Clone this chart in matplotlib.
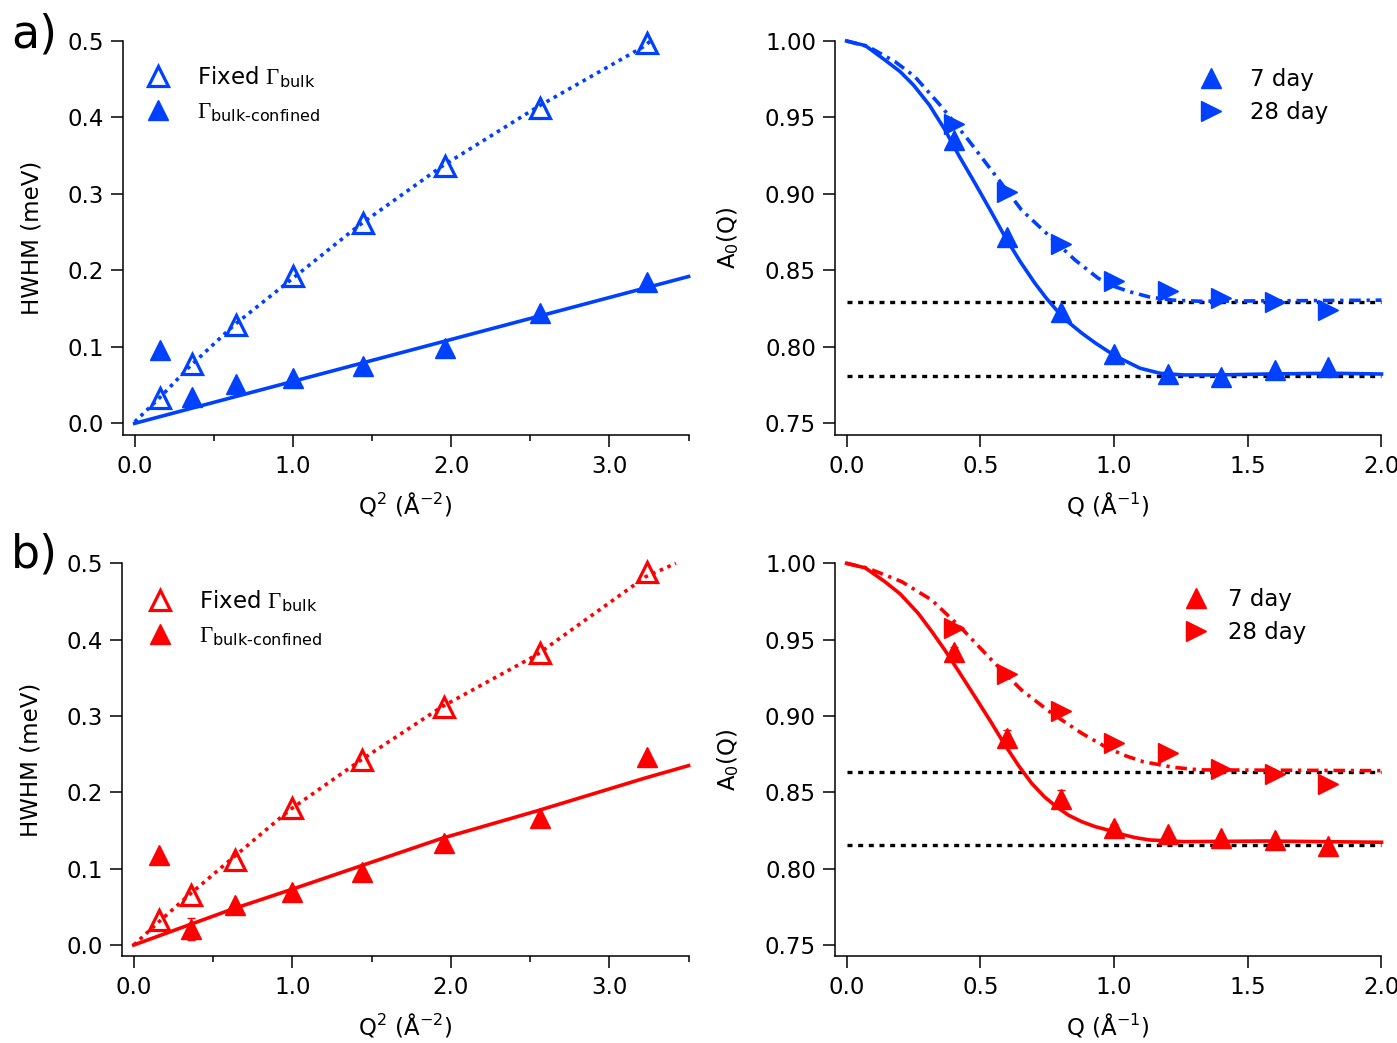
import numpy as np
import matplotlib
matplotlib.use("Agg")
import matplotlib.pyplot as plt

plt.rcParams['font.family'] = 'DejaVu Sans'
plt.rcParams['font.size'] = 16.5
plt.rcParams['mathtext.fontset'] = 'custom'
plt.rcParams['mathtext.rm'] = 'Liberation Serif'
plt.rcParams['mathtext.sf'] = 'DejaVu Sans'
plt.rcParams['mathtext.it'] = 'DejaVu Sans:italic'
plt.rcParams['mathtext.bf'] = 'DejaVu Sans:bold'

BLUE = '#0040ff'
RED = '#ff0000'

# ---- HWHM vs Q^2 ----
q2 = [0.16, 0.36, 0.64, 1.0, 1.44, 1.96, 2.56, 3.24]

fixed_a = [0.033, 0.078, 0.128, 0.193, 0.262, 0.337, 0.413, 0.497]
conf_a = [0.096, 0.035, 0.052, 0.059, 0.075, 0.099, 0.144, 0.185]
fixed_b = [0.033, 0.066, 0.111, 0.179, 0.242, 0.312, 0.382, 0.488]
conf_b = [0.118, 0.021, 0.052, 0.070, 0.096, 0.133, 0.166, 0.246]
conf_b_err = [0, 0.015, 0, 0, 0, 0, 0, 0]

# fitted curves
fixed_fit_a_x = [0.0, 0.154, 0.346, 0.628, 0.989, 1.418, 1.937, 2.547, 3.213, 3.26]
fixed_fit_a_y = [0.002, 0.0327, 0.074, 0.1285, 0.188, 0.259, 0.3355, 0.414, 0.4923, 0.5]
conf_fit_a_x = [0.0, 3.5]
conf_fit_a_y = [0.0, 0.192]
fixed_fit_b_x = [0.0, 0.159, 0.351, 0.633, 0.984, 1.424, 1.943, 2.541, 3.23, 3.42]
fixed_fit_b_y = [0.0, 0.0305, 0.066, 0.1157, 0.177, 0.241, 0.312, 0.380, 0.4825, 0.5]
conf_fit_b_x = [0.0, 0.622, 0.984, 1.943, 2.541, 3.23, 3.5]
conf_fit_b_y = [0.0, 0.047, 0.072, 0.1397, 0.1755, 0.219, 0.235]

# ---- A0(Q) ----
q = [0.4, 0.6, 0.8, 1.0, 1.2, 1.4, 1.6, 1.8]

a0_7_a = [0.935, 0.872, 0.8225, 0.795, 0.782, 0.780, 0.785, 0.787]
a0_28_a = [0.9455, 0.9015, 0.867, 0.843, 0.8362, 0.832, 0.829, 0.824]
a0_7_b = [0.942, 0.8854, 0.8458, 0.8264, 0.8228, 0.8200, 0.8190, 0.8150]
a0_28_b = [0.9575, 0.9275, 0.9036, 0.8824, 0.8756, 0.8652, 0.8623, 0.8552]
a0_7_b_err = [0.003, 0.0055, 0.0055, 0.003, 0, 0, 0, 0]

fit7_a_q = [0.0, 0.07, 0.143, 0.2, 0.25, 0.31, 0.368, 0.42, 0.48, 0.54, 0.592, 0.65, 0.704,
            0.745, 0.785, 0.83, 0.879, 0.93, 0.978, 1.022, 1.097, 1.172, 1.259, 1.384,
            1.571, 1.819, 2.0]
fit7_a_y = [1.0, 0.997, 0.9876, 0.980, 0.9712, 0.958, 0.9418, 0.925, 0.907, 0.8885, 0.872,
            0.8555, 0.8416, 0.8322, 0.824, 0.816, 0.809, 0.8025, 0.797, 0.7925, 0.786,
            0.7827, 0.7816, 0.7816, 0.7822, 0.7827, 0.7822]
fit28_a_q = [0.0, 0.081, 0.181, 0.255, 0.355, 0.455, 0.555, 0.654, 0.754, 0.854,
             0.941, 1.0, 1.059, 1.134, 1.221, 1.321, 2.0]
fit28_a_y = [1.0, 0.9963, 0.9865, 0.9767, 0.957, 0.9353, 0.9124, 0.8895, 0.8731, 0.8568,
             0.8448, 0.8395, 0.836, 0.8325, 0.8305, 0.8298, 0.8305]
fit7_b_q = [0.0, 0.07, 0.143, 0.2, 0.268, 0.32, 0.368, 0.42, 0.48, 0.54, 0.592, 0.645, 0.692,
            0.74, 0.785, 0.83, 0.879, 0.93, 0.978, 1.022, 1.08, 1.134, 1.259, 1.571, 2.0]
fit7_b_y = [1.0, 0.997, 0.988, 0.980, 0.9672, 0.955, 0.943, 0.929, 0.9126, 0.896, 0.881,
            0.867, 0.8559, 0.847, 0.8405, 0.835, 0.8308, 0.8275, 0.8253, 0.8228, 0.8203,
            0.8188, 0.8177, 0.8181, 0.8173]
fit28_b_q = [0.0, 0.081, 0.206, 0.318, 0.43, 0.542, 0.654, 0.767, 0.879, 0.978,
             1.05, 1.109, 1.221, 1.321, 2.0]
fit28_b_y = [1.0, 0.9967, 0.988, 0.976, 0.9574, 0.9367, 0.917, 0.9018, 0.8887, 0.8788,
             0.8735, 0.8701, 0.8664, 0.8647, 0.8642]

# plateau levels
plateau_a = [0.829, 0.781]
plateau_b = [0.8635, 0.8155]
plateau_q = [0.0, 2.0]

fig = plt.figure(figsize=(13.97, 10.43), dpi=100)
ax_a1 = fig.add_axes([0.0877, 0.5829, 0.4052, 0.3778])
ax_a2 = fig.add_axes([0.5974, 0.5829, 0.3915, 0.3778])
ax_b1 = fig.add_axes([0.0870, 0.0834, 0.4059, 0.3765])
ax_b2 = fig.add_axes([0.5974, 0.0834, 0.3915, 0.3765])

MS = 15
dotted = (0, (1.0, 1.3))
dashdot = (0, (3.2, 1.6, 0.9, 1.6))
black_dots = (0, (1.5, 1.7))


def style_axes(ax):
    for s in ['top', 'right']:
        ax.spines[s].set_visible(False)
    for s in ['left', 'bottom']:
        ax.spines[s].set_linewidth(1.1)
    ax.tick_params(which='major', direction='out', length=8.4, width=1.1)
    ax.tick_params(which='minor', direction='out', length=4, width=1.1)
    ax.tick_params(axis='x', which='major', pad=6)
    ax.tick_params(axis='y', which='major', pad=5)


def hwhm_panel(ax, color, fixed, conf, conf_err, ffx, ffy, cfx, cfy, ylo, lab):
    ax.plot(ffx, ffy, color=color, lw=2.6, ls=dotted, clip_on=False)
    ax.plot(cfx, cfy, color=color, lw=2.6, clip_on=False)
    ax.errorbar(q2, conf, yerr=conf_err, fmt='none', ecolor=color, elinewidth=1,
                capsize=3, clip_on=False)
    ax.plot(q2, fixed, ls='none', marker='^', ms=MS, mfc='none', mec=color, mew=2.3,
            clip_on=False, label=r'Fixed $\Gamma_{\mathsf{bulk}}$')
    ax.plot(q2, conf, ls='none', marker='^', ms=MS, mfc=color, mec=color,
            clip_on=False, label='$\\Gamma_{\\mathsf{bulk\u2010confined}}$')
    ax.set_xlim(-0.077, 3.5)
    ax.set_ylim(ylo, 0.5)
    ax.set_xticks([0, 1, 2, 3])
    ax.set_xticks([0.5, 1.5, 2.5, 3.5], minor=True)
    ax.set_xticklabels(['0.0', '1.0', '2.0', '3.0'])
    ax.set_yticks([0, 0.1, 0.2, 0.3, 0.4, 0.5])
    ax.set_yticklabels(['0.0', '0.1', '0.2', '0.3', '0.4', '0.5'])
    ax.set_xlabel(r'Q$^{\mathsf{2}}$ (Å$^{\mathsf{-2}}$)', labelpad=9)
    ax.set_ylabel('HWHM (meV)', labelpad=17)
    style_axes(ax)
    ax.legend(loc='upper left', bbox_to_anchor=lab, frameon=False, borderpad=0,
              borderaxespad=0, handlelength=1.0, handletextpad=1.2,
              labelspacing=0.45, fontsize=16.5)


def a0_panel(ax, color, a7, a28, a7err, f7q, f7y, f28q, f28y, plateau, ylo, lab, pad):
    for lvl in plateau:
        ax.plot(plateau_q, [lvl, lvl], color='black', lw=2.4, ls=black_dots, clip_on=False)
    ax.plot(f7q, f7y, color=color, lw=2.6, clip_on=False)
    ax.plot(f28q, f28y, color=color, lw=2.6, ls=dashdot, clip_on=False)
    ax.errorbar(q, a7, yerr=a7err, fmt='none', ecolor=color, elinewidth=1,
                capsize=3, clip_on=False)
    ax.plot(q, a7, ls='none', marker='^', ms=MS, mfc=color, mec=color,
            clip_on=False, label='7 day')
    ax.plot(q, a28, ls='none', marker='>', ms=MS, mfc=color, mec=color,
            clip_on=False, label='28 day')
    ax.set_xlim(-0.045, 2.0)
    ax.set_ylim(ylo, 1.0)
    ax.set_xticks([0, 0.5, 1.0, 1.5, 2.0])
    ax.set_xticklabels(['0.0', '0.5', '1.0', '1.5', '2.0'])
    ax.set_yticks([0.75, 0.80, 0.85, 0.90, 0.95, 1.00])
    ax.set_yticklabels(['0.75', '0.80', '0.85', '0.90', '0.95', '1.00'])
    ax.set_xlabel(r'Q (Å$^{\mathsf{-1}}$)', labelpad=9)
    ax.set_ylabel(r'A$_{\mathsf{0}}$(Q)', labelpad=17)
    style_axes(ax)
    ax.legend(loc='upper left', bbox_to_anchor=lab, frameon=False, borderpad=0,
              borderaxespad=0, handlelength=1.0, handletextpad=pad,
              labelspacing=0.43, fontsize=16.5)


hwhm_panel(ax_a1, BLUE, fixed_a, conf_a, None, fixed_fit_a_x, fixed_fit_a_y,
           conf_fit_a_x, conf_fit_a_y, -0.0153, (0.042, 0.942))
hwhm_panel(ax_b1, RED, fixed_b, conf_b, conf_b_err, fixed_fit_b_x, fixed_fit_b_y,
           conf_fit_b_x, conf_fit_b_y, -0.0144, (0.047, 0.937))
a0_panel(ax_a2, BLUE, a0_7_a, a0_28_a, None, fit7_a_q, fit7_a_y, fit28_a_q, fit28_a_y,
         plateau_a, 0.7423, (0.667, 0.932), 1.2)
a0_panel(ax_b2, RED, a0_7_b, a0_28_b, a0_7_b_err, fit7_b_q, fit7_b_y, fit28_b_q, fit28_b_y,
         plateau_b, 0.7428, (0.64, 0.937), 0.9)

fig.text(0.008, 0.988, 'a)', fontsize=33, va='top', ha='left')
fig.text(0.008, 0.489, 'b)', fontsize=33, va='top', ha='left')

fig.savefig('out.png', dpi=100)
